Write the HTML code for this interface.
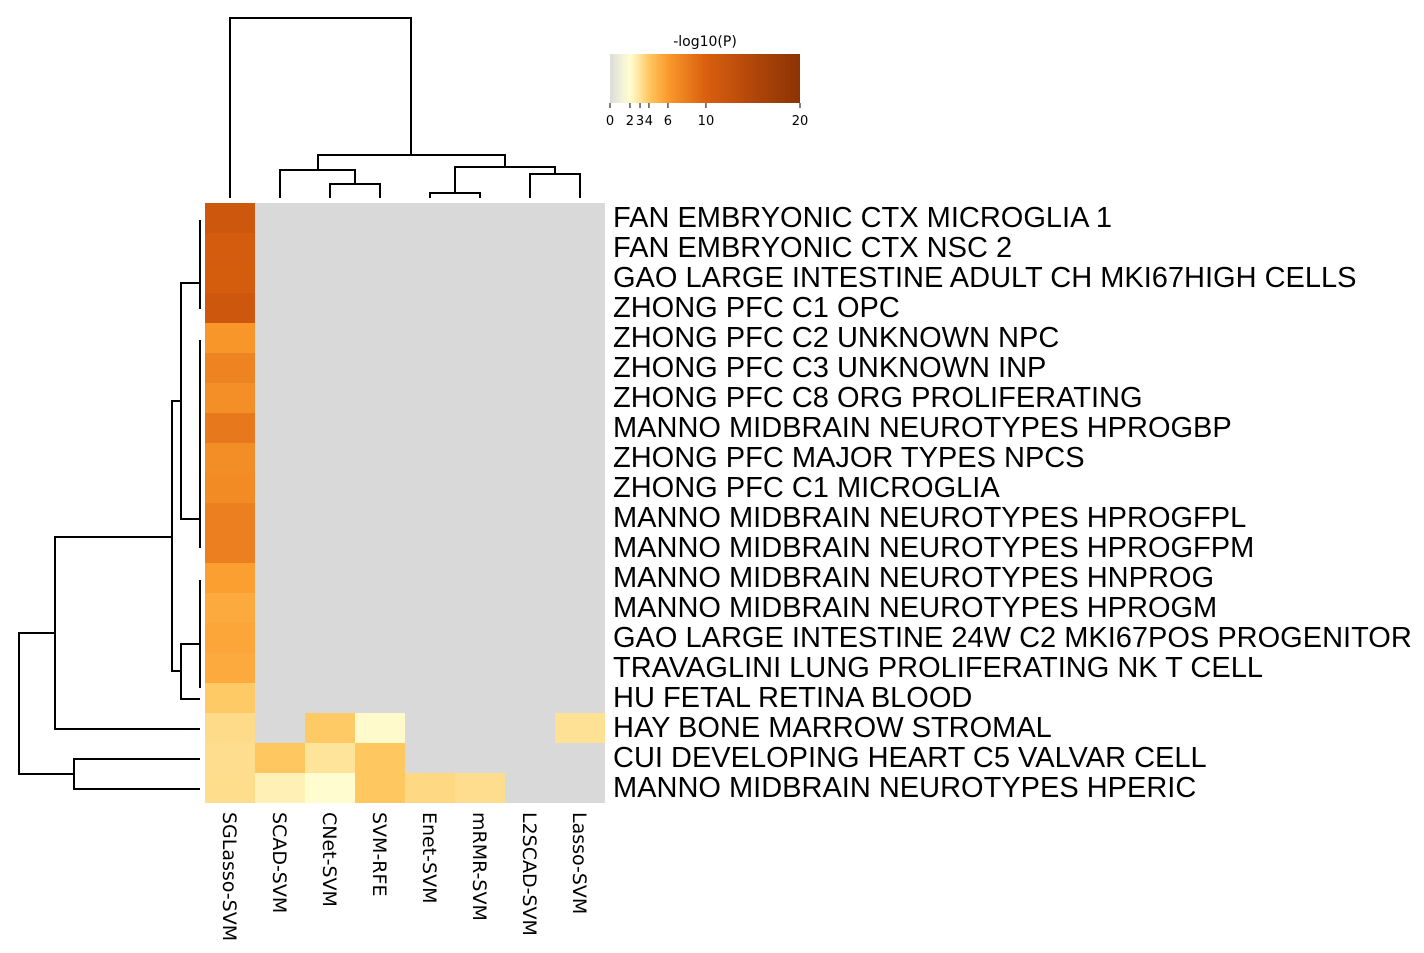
<!DOCTYPE html>
<html><head><meta charset="utf-8"><style>
html,body{margin:0;padding:0;background:#fff;}
svg{display:block;}
.rl{font-family:"Liberation Sans",Arial,sans-serif;font-size:29px;fill:#000;}
.cl{font-family:"DejaVu Sans",sans-serif;font-size:19px;fill:#000;}
.lt{font-family:"DejaVu Sans",sans-serif;font-size:13px;fill:#000;}
</style></head><body>
<svg id="chart" width="1424" height="953" viewBox="0 0 1424 953" xmlns="http://www.w3.org/2000/svg">
<defs>
<linearGradient id="cbar" x1="0" x2="1" y1="0" y2="0">
<stop offset="0" stop-color="#dcdcd8"/>
<stop offset="0.06" stop-color="#f2f1d8"/>
<stop offset="0.105" stop-color="#fffcd0"/>
<stop offset="0.158" stop-color="#fee49a"/>
<stop offset="0.205" stop-color="#fec760"/>
<stop offset="0.305" stop-color="#fb9a2c"/>
<stop offset="0.505" stop-color="#d95f0e"/>
<stop offset="0.75" stop-color="#b1470a"/>
<stop offset="1" stop-color="#8c3305"/>
</linearGradient>
</defs>
<g id="cells"></g>
<g id="dendro-top" fill="none" stroke="#000" stroke-width="2">
<path d="M230 198V18H411V155"/>
<path d="M318 170V155H505V167"/>
<path d="M280 198V170H355V184"/>
<path d="M330 198V184H380V198"/>
<path d="M455 193V167H555V174"/>
<path d="M430 198V193H480V198"/>
<path d="M530 198V174H580V198"/>
</g>
<g id="dendro-left" fill="none" stroke="#000" stroke-width="2">
<path d="M200 220V309"/>
<path d="M200 340V548"/>
<path d="M200 580V688"/>
<path d="M200 283H181V519H200"/>
<path d="M181 401H172V671H181"/>
<path d="M200 644H181V699H200"/>
<path d="M172 537H55V729H200"/>
<path d="M200 759H74V789H200"/>
<path d="M55 633H19V774H74"/>
</g>
<g id="rowlabels"></g>
<g id="collabels"></g>
<g id="legend">
<text class="lt" x="705" y="46" text-anchor="middle" style="font-size:14px">-log10(P)</text>
<rect x="610" y="54" width="190" height="49" fill="url(#cbar)"/>
<g id="cticks"></g>
</g>
</svg>
<script>
const rows = ["FAN EMBRYONIC CTX MICROGLIA 1","FAN EMBRYONIC CTX NSC 2","GAO LARGE INTESTINE ADULT CH MKI67HIGH CELLS","ZHONG PFC C1 OPC","ZHONG PFC C2 UNKNOWN NPC","ZHONG PFC C3 UNKNOWN INP","ZHONG PFC C8 ORG PROLIFERATING","MANNO MIDBRAIN NEUROTYPES HPROGBP","ZHONG PFC MAJOR TYPES NPCS","ZHONG PFC C1 MICROGLIA","MANNO MIDBRAIN NEUROTYPES HPROGFPL","MANNO MIDBRAIN NEUROTYPES HPROGFPM","MANNO MIDBRAIN NEUROTYPES HNPROG","MANNO MIDBRAIN NEUROTYPES HPROGM","GAO LARGE INTESTINE 24W C2 MKI67POS PROGENITOR","TRAVAGLINI LUNG PROLIFERATING NK T CELL","HU FETAL RETINA BLOOD","HAY BONE MARROW STROMAL","CUI DEVELOPING HEART C5 VALVAR CELL","MANNO MIDBRAIN NEUROTYPES HPERIC"];
const cols = ["SGLasso-SVM","SCAD-SVM","CNet-SVM","SVM-RFE","Enet-SVM","mRMR-SVM","L2SCAD-SVM","Lasso-SVM"];
const sglasso = [11.6,10.6,10.7,11.6,6.3,7.5,6.8,8.3,6.9,7.0,7.8,7.8,5.8,5.3,5.5,5.3,3.9,3.3,3.2,3.25];
const hayBone = [3.3,null,3.9,2.1,null,null,null,3.1];
const cuiHeart = [3.2,4.0,3.0,4.0,null,null,null,null];
const mannoPeric = [3.25,2.5,2.0,4.0,3.4,3.2,null,null];
const tickVals = [0,2,3,4,6,10,20];
const tickPos = [0,0.105,0.158,0.205,0.305,0.505,1];
const stopVals = [0,1,2,3,4,6,10,15,20];
const stopCols = ["#d9d9d9","#f2f1d8","#fffcd0","#fee49a","#fec760","#fb9a2c","#d95f0e","#b1470a","#8c3305"];
const NS="http://www.w3.org/2000/svg";
const x0=205,y0=203,cw=50,rh=30;
function hx(c){return [1,3,5].map(i=>parseInt(c.substr(i,2),16));}
function color(v){
  if(v===null) return "#d9d9d9";
  for(let i=1;i<stopVals.length;i++){ if(v<=stopVals[i]){const t=(v-stopVals[i-1])/(stopVals[i]-stopVals[i-1]);const a=hx(stopCols[i-1]),b=hx(stopCols[i]);return "rgb("+a.map((q,k)=>Math.round(q+(b[k]-q)*t)).join(",")+")";}}
  return stopCols[stopCols.length-1];
}
function val(r,c){
  if(r===17) return hayBone[c];
  if(r===18) return cuiHeart[c];
  if(r===19) return mannoPeric[c];
  return c===0?sglasso[r]:null;
}
function xs(c){return x0+c*cw;}
function ys(r){return y0+r*rh;}
const cells=document.getElementById('cells');
for(let r=0;r<rows.length;r++){for(let c=0;c<cols.length;c++){
  const e=document.createElementNS(NS,'rect');
  e.setAttribute('x',xs(c));e.setAttribute('y',ys(r));e.setAttribute('width',cw);e.setAttribute('height',rh);
  e.setAttribute('fill',color(val(r,c)));
  
  
  cells.appendChild(e);
}}
const rl=document.getElementById('rowlabels');
rows.forEach((t,r)=>{const e=document.createElementNS(NS,'text');e.setAttribute('class','rl');e.setAttribute('x',613);e.setAttribute('y',ys(r)+rh/2+9);e.textContent=t;
  
  
  rl.appendChild(e);});
const cl=document.getElementById('collabels');
cols.forEach((t,c)=>{const e=document.createElementNS(NS,'text');const cx=xs(c)+cw/2-7;e.setAttribute('class','cl');e.setAttribute('transform','translate('+cx+',812) rotate(90)');e.textContent=t;
  
  
  cl.appendChild(e);});
const ct=document.getElementById('cticks');
tickVals.forEach((v,i)=>{const x=610+tickPos[i]*190;
  const l=document.createElementNS(NS,'line');l.setAttribute('x1',x);l.setAttribute('x2',x);l.setAttribute('y1',103);l.setAttribute('y2',108);l.setAttribute('stroke','#000');
  
  
  ct.appendChild(l);
  const t=document.createElementNS(NS,'text');t.setAttribute('class','lt');t.setAttribute('x',x);t.setAttribute('y',125);t.setAttribute('text-anchor','middle');t.textContent=v;
  
  
  ct.appendChild(t);});
</script>
</body></html>
